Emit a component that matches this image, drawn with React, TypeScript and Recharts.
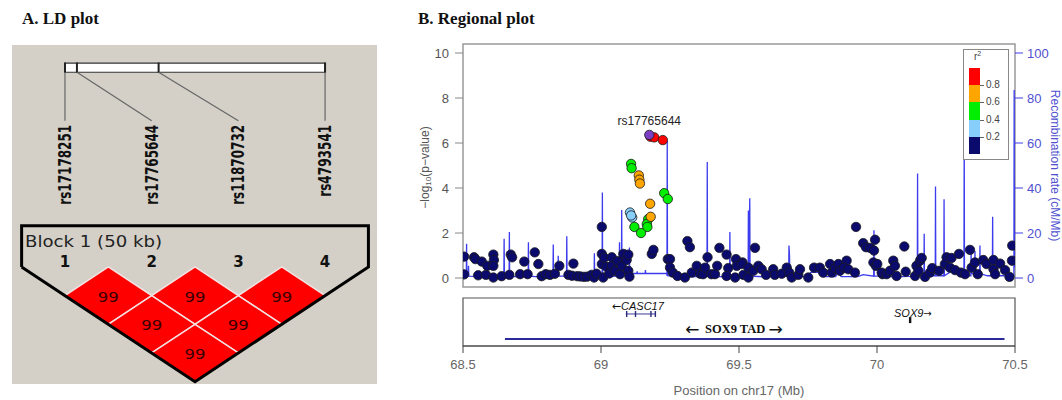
import React from "react";
import {
  ComposedChart,
  ScatterChart,
  Scatter,
  Line,
  XAxis,
  YAxis,
  ReferenceArea,
  ReferenceLine,
  Legend,
} from "recharts";

// ---------- A. LD plot data ----------
const ldMarkers = ["rs17178251", "rs17765644", "rs11870732", "rs4793541"];
const ldMarkerKb = [0, 2.3, 18.0, 50];
const ldBlockKb = 50;
const ldPairs = [
  [1, 2, 99],
  [2, 3, 99],
  [3, 4, 99],
  [1, 3, 99],
  [2, 4, 99],
  [1, 4, 99],
];
const ldBlockLabel = "Block 1 (50 kb)";

// ---------- B. Regional plot data ----------
const xTicks = [68.5, 69, 69.5, 70, 70.5];
const pTicks = [0, 2, 4, 6, 8, 10];
const rateTicks = [0, 20, 40, 60, 80, 100];

const r2Colors = ["#ff0000", "#ffa500", "#00ee00", "#87cefa", "#0b0b6e"];
const r2Breaks = ["0.8", "0.6", "0.4", "0.2"];

const leadSnp = { name: "rs17765644", pos: 69.175, logp: 6.36 };

const snpsRed = [
  [69.179, 6.28],
  [69.193, 6.25],
  [69.224, 6.13],
];
const snpsOrange = [
  [69.137, 4.56],
  [69.139, 4.37],
  [69.141, 4.2],
  [69.178, 3.3],
  [69.18, 2.72],
];
const snpsGreen = [
  [69.109, 5.07],
  [69.111, 4.88],
  [69.229, 3.77],
  [69.242, 3.51],
  [69.171, 2.62],
  [69.166, 2.4],
  [69.168, 2.27],
  [69.121, 2.27],
  [69.145, 2.0],
];
const snpsLightBlue = [
  [69.105, 2.91],
  [69.113, 2.69],
  [69.109, 2.78],
];
const snpsNavy = [
  [68.504, 0.95], [68.504, 0.16], [68.54, 0.92], [68.545, 0.84], [68.555, 0.12],
  [68.568, 0.73], [68.583, 0.14], [68.588, 0.54], [68.61, 1.04], [68.612, 0.8],
  [68.61, 0.54], [68.61, 0.02], [68.64, 0.08], [68.668, 0.14], [68.673, 1.04],
  [68.678, 0.92], [68.707, 0.17], [68.722, 0.73], [68.734, 0.17], [68.76, 1.14],
  [68.773, 0.62], [68.785, 0.08], [68.8, 0.17], [68.815, 0.14], [68.833, 0.19],
  [68.849, 0.54], [68.882, 0.14], [68.895, 0.1], [68.9, 0.64], [68.914, 0.08],
  [68.925, 0.07], [68.938, 0.05], [68.95, 0.06], [68.966, 0.14], [68.975, 0.02],
  [68.984, 0.19],
  [69.003, 2.27], [69.003, 1.07], [69.003, 0.62], [69.008, 0.02], [69.012, 0.9],
  [69.02, 0.5], [69.03, 0.2], [69.039, 0.92], [69.039, 0.54], [69.05, 0.32],
  [69.06, 0.75], [69.069, 0.17], [69.075, 0.54], [69.081, 1.07], [69.093, 0.8],
  [69.099, 1.04], [69.099, 0.32], [69.103, 0.06],
  [69.184, 1.07], [69.19, 1.25], [69.242, 0.84], [69.25, 0.84], [69.25, 0.46],
  [69.26, 0.24], [69.277, 0.09], [69.304, 0.02], [69.313, 1.64], [69.322, 1.37],
  [69.329, 0.24], [69.347, 0.54], [69.359, 0.19], [69.37, 0.17], [69.377, 0.46],
  [69.386, 0.92], [69.4, 0.17], [69.413, 0.17], [69.421, 0.54], [69.429, 1.34],
  [69.455, 1.04], [69.461, 0.44], [69.455, 0.09], [69.486, 0.02], [69.489, 0.84],
  [69.492, 0.54], [69.513, 0.69],
  [69.51, 0.62], [69.516, 0.14], [69.534, 0.46], [69.534, 0.02], [69.558, 1.34],
  [69.552, 0.32], [69.57, 0.54], [69.582, 0.39], [69.598, 0.14], [69.624, 0.39],
  [69.63, 0.14], [69.655, 0.19], [69.673, 0.46], [69.682, 0.24], [69.691, 0.02],
  [69.715, 0.14], [69.721, 0.39], [69.751, 0.02], [69.772, 0.46], [69.793, 0.46],
  [69.805, 0.24], [69.83, 0.62], [69.836, 0.24], [69.848, 0.44], [69.86, 0.62],
  [69.866, 0.32], [69.89, 0.77], [69.88, 0.46], [69.896, 0.39], [69.92, 0.24],
  [69.924, 2.27], [69.95, 1.55], [69.96, 1.37], [69.975, 1.34], [69.989, 1.22],
  [69.993, 1.7], [69.987, 0.69], [69.996, 0.54], [70.02, 0.17],
  [70.001, 0.62], [70.017, 0.24], [70.035, 0.17], [70.047, 0.32], [70.059, 0.77],
  [70.065, 0.54], [70.071, 0.09], [70.099, 1.4], [70.104, 0.28], [70.138, 0.09],
  [70.143, 0.54], [70.156, 0.77], [70.162, 0.89], [70.15, 0.32], [70.174, 0.05],
  [70.192, 0.24], [70.2, 0.44], [70.225, 0.32], [70.246, 0.62], [70.252, 0.92],
  [70.27, 0.89], [70.264, 0.46], [70.283, 0.35], [70.297, 1.07], [70.304, 0.24],
  [70.319, 0.17], [70.337, 1.25], [70.343, 0.46], [70.355, 0.69], [70.365, 0.17],
  [70.385, 0.8], [70.397, 0.62], [70.422, 0.8], [70.422, 0.39], [70.428, 0.17],
  [70.446, 0.64], [70.464, 0.35], [70.48, 0.05], [70.489, 0.77], [70.49, 1.44],
];

// recombination rate (cM/Mb) along the region
const recombRate = [
  [68.5, 0.5], [68.505, 1], [68.512, 1], [68.513, 15.2], [68.514, 1], [68.519, 1],
  [68.52, 5.4], [68.521, 0.8], [68.58, 0.6], [68.6, 0.5],
  [68.648, 0.8], [68.649, 17.4], [68.65, 0.8], [68.667, 0.8], [68.668, 20.4], [68.669, 0.8],
  [68.7, 0.5], [68.736, 0.8], [68.737, 15.9], [68.738, 0.8], [68.79, 0.4],
  [68.826, 0.8], [68.827, 14.9], [68.828, 0.8], [68.844, 0.8], [68.845, 9.9], [68.846, 0.8],
  [68.875, 0.8], [68.876, 18.5], [68.877, 0.8], [68.93, 0.5],
  [68.975, 0.8], [68.976, 11], [68.977, 0.8], [69.004, 0.8], [69.005, 38], [69.006, 0.8],
  [69.03, 0.5], [69.066, 1], [69.067, 15.9], [69.068, 1], [69.074, 1], [69.075, 30.2],
  [69.076, 1], [69.102, 1], [69.103, 13.6], [69.104, 1.5],
  [69.11, 2], [69.13, 2], [69.131, 3], [69.132, 2], [69.16, 2], [69.161, 3.5], [69.162, 2],
  [69.2, 2], [69.238, 2], [69.239, 1], [69.24, 61], [69.241, 1],
  [69.3, 0.4], [69.384, 0.8], [69.385, 51.5], [69.386, 0.8], [69.42, 0.5],
  [69.466, 0.8], [69.467, 20.4], [69.468, 0.8], [69.5, 0.6],
  [69.533, 0.8], [69.534, 30], [69.536, 5], [69.539, 35.4], [69.54, 0.8], [69.6, 0.5],
  [69.68, 0.8], [69.681, 14.4], [69.683, 10], [69.684, 0.8],
  [69.75, 0.5], [69.76, 2.5], [69.8, 2.5], [69.801, 0.6], [69.85, 0.6], [69.86, 2.5],
  [69.87, 0.6], [69.93, 0.6], [69.95, 1.5],
  [69.988, 0.8], [69.989, 21.2], [69.99, 0.8], [70.01, 0.8], [70.011, 8], [70.012, 0.8],
  [70.05, 0.6], [70.09, 0.6], [70.137, 0.8], [70.138, 7.7], [70.139, 1],
  [70.146, 1], [70.147, 46.4], [70.148, 1], [70.17, 1], [70.171, 19.7], [70.172, 1],
  [70.211, 1], [70.212, 40.7], [70.213, 1], [70.242, 1], [70.243, 35], [70.244, 1],
  [70.27, 3], [70.3, 3], [70.315, 1], [70.316, 66], [70.317, 1],
  [70.34, 1], [70.341, 12], [70.342, 2], [70.354, 2], [70.355, 12], [70.356, 2],
  [70.372, 2], [70.373, 14.4], [70.374, 2], [70.4, 1],
  [70.418, 1], [70.419, 27.2], [70.42, 1], [70.45, 1],
  [70.496, 1], [70.497, 83.5], [70.498, 5], [70.5, 5],
];

// gene track
const casc17 = { name: "CASC17", start: 69.09, end: 69.197, exons: [69.093, 69.125, 69.181, 69.197] };
const sox9 = { name: "SOX9", pos: 70.12 };
const sox9Tad = { name: "SOX9 TAD", start: 68.652, end: 70.462 };

const SANS = "'Liberation Sans', Arial, sans-serif";
const SERIF = "'Liberation Serif', 'Times New Roman', serif";
const RATE_BLUE = "#3c3cee";

const toPts = (arr: number[][]) => arr.map(([pos, logp]) => ({ pos, logp }));

const dot = (fill: string) => (p: any) => (
  <circle cx={p.cx} cy={p.cy} r={4.7} fill={fill} stroke="#1a1a1a" strokeWidth={0.8} />
);

// ---------- LD panel ----------
const LDPlot = () => {
  const kbToX = (kb: number) => 1 + (kb / ldBlockKb) * (ldMarkers.length - 1);
  const labels = ldMarkers.map((name, i) => ({ x: i + 1, y: -4.95, name }));
  const numbers = ldMarkers.map((_, i) => ({ x: i + 1, y: -0.17, name: String(i + 1) }));
  const cells = ldPairs.map(([a, b, v]) => ({ x: (a + b) / 2, y: b - a, v }));
  const n = ldMarkers.length;
  const outline = [
    { x: 0.5, y: 0 },
    { x: 0.5, y: -1.43 },
    { x: n + 0.5, y: -1.43 },
    { x: n + 0.5, y: 0 },
    { x: (n + 1) / 2, y: n },
    { x: 0.5, y: 0 },
  ];

  return (
    <ScatterChart width={365} height={339} margin={{ top: 0, right: 0, bottom: 0, left: 0 }}>
      <XAxis type="number" dataKey="x" domain={[0.389, 4.599]} hide allowDataOverflow />
      <YAxis type="number" dataKey="y" domain={[-7.73, 4.08]} reversed hide allowDataOverflow />
      <ReferenceArea x1={1} x2={4} y1={-7.1} y2={-6.78} fill="#fff" fillOpacity={1} stroke="#333" strokeWidth={1.2} />
      {ldMarkerKb.map((kb, i) => (
        <ReferenceLine
          key={"t" + i}
          segment={[{ x: kbToX(kb), y: -7.12 }, { x: kbToX(kb), y: -6.76 }]}
          stroke="#222"
          strokeWidth={2}
        />
      ))}
      {ldMarkerKb.map((kb, i) => (
        <ReferenceLine
          key={"c" + i}
          segment={[{ x: kbToX(kb), y: -6.78 }, { x: i + 1, y: -5.09 }]}
          stroke="#666"
          strokeWidth={1.2}
        />
      ))}
      <Scatter
        data={labels}
        isAnimationActive={false}
        shape={(p: any) => (
          <text
            x={p.cx}
            y={p.cy}
            transform={`rotate(-90 ${p.cx} ${p.cy})`}
            textAnchor="end"
            dominantBaseline="central"
            fontFamily="'DejaVu Sans Condensed', 'DejaVu Sans', sans-serif"
            fontWeight="bold"
            fontSize={17.5}
            textLength={p.payload.name.length * 8}
            lengthAdjust="spacingAndGlyphs"
            fill="#111"
          >
            {p.payload.name}
          </text>
        )}
      />
      <Scatter
        data={cells}
        isAnimationActive={false}
        shape={(p: any) => {
          const w = 43.4;
          const h = 28.7;
          return (
            <g>
              <polygon
                points={`${p.cx},${p.cy - h} ${p.cx + w},${p.cy} ${p.cx},${p.cy + h} ${p.cx - w},${p.cy}`}
                fill="#ff0000"
                stroke="#f3e2e2"
                strokeWidth={1.5}
              />
              <text
                x={p.cx}
                y={p.cy + 1}
                textAnchor="middle"
                dominantBaseline="central"
                fontFamily="'DejaVu Sans', sans-serif"
                fontSize={14}
                textLength={21}
                lengthAdjust="spacingAndGlyphs"
                fill="#3a0000"
              >
                {p.payload.v}
              </text>
            </g>
          );
        }}
      />
      <Scatter
        data={outline}
        isAnimationActive={false}
        line={{ stroke: "#000", strokeWidth: 3 }}
        lineType="joint"
        shape={() => <g />}
      />
      <Scatter
        data={numbers}
        isAnimationActive={false}
        shape={(p: any) => (
          <text
            x={p.cx}
            y={p.cy}
            textAnchor="middle"
            dominantBaseline="central"
            fontFamily="'DejaVu Sans', sans-serif"
            fontWeight="bold"
            fontSize={15}
            fill="#111"
          >
            {p.payload.name}
          </text>
        )}
      />
      <Scatter
        data={[{ x: 0.54, y: -0.87 }]}
        isAnimationActive={false}
        shape={(p: any) => (
          <text
            x={p.cx}
            y={p.cy}
            dominantBaseline="central"
            fontFamily="'DejaVu Sans', sans-serif"
            fontSize={15.5}
            textLength={137}
            lengthAdjust="spacingAndGlyphs"
            fill="#222"
          >
            {ldBlockLabel}
          </text>
        )}
      />
    </ScatterChart>
  );
};

// ---------- r2 legend ----------
const R2Legend = () => (
  <div
    style={{
      width: 46,
      height: 111,
      border: "1px solid #888",
      background: "#fff",
      position: "relative",
      boxSizing: "border-box",
      fontFamily: SANS,
    }}
  >
    <div style={{ position: "absolute", left: 10, top: 0, fontSize: 10, color: "#444" }}>
      r<sup style={{ fontSize: 7 }}>2</sup>
    </div>
    {r2Colors.map((c, i) => (
      <div
        key={c}
        style={{ position: "absolute", left: 5, top: 18 + i * 17.2, width: 11, height: 17.2, background: c }}
      />
    ))}
    {r2Breaks.map((b, i) => (
      <React.Fragment key={b}>
        <div
          style={{ position: "absolute", left: 16, top: 18 + (i + 1) * 17.2, width: 4, height: 1, background: "#666" }}
        />
        <div
          style={{
            position: "absolute",
            left: 22,
            top: 18 + (i + 1) * 17.2 - 6,
            fontSize: 10,
            lineHeight: "12px",
            color: "#444",
          }}
        >
          {b}
        </div>
      </React.Fragment>
    ))}
  </div>
);

// ---------- regional plot ----------
const RegionalPlot = () => {
  const recomb = recombRate.map(([pos, rate]) => ({ pos, rate }));
  const groups = [
    { data: toPts(snpsNavy), color: r2Colors[4] },
    { data: toPts(snpsLightBlue), color: r2Colors[3] },
    { data: toPts(snpsGreen), color: r2Colors[2] },
    { data: toPts(snpsOrange), color: r2Colors[1] },
    { data: toPts(snpsRed), color: r2Colors[0] },
  ];
  return (
    <ComposedChart width={662} height={270} margin={{ top: 14, right: 0, bottom: 13, left: 0 }}>
      <XAxis type="number" dataKey="pos" domain={[68.5, 70.5]} hide allowDataOverflow />
      <YAxis
        yAxisId="p"
        type="number"
        domain={[-0.4, 10.4]}
        ticks={pTicks}
        width={63}
        allowDataOverflow
        axisLine={false}
        tickSize={8}
        tickMargin={6}
        tickLine={{ stroke: "#888" }}
        tick={{ fill: "#555", fontSize: 13, fontFamily: SANS }}
        label={{
          content: (props: any) => {
            const vb = props.viewBox || { x: 0, y: 14, width: 63, height: 243 };
            const x = vb.x + 25;
            const y = vb.y + vb.height / 2 + 2;
            return (
              <text
                x={x}
                y={y}
                transform={`rotate(-90 ${x} ${y})`}
                textAnchor="middle"
                dominantBaseline="central"
                fontFamily={SANS}
                fontSize={12}
                fill="#555"
              >
                −log
                <tspan fontSize={8} dy={3}>10</tspan>
                <tspan dy={-3}>(p−value)</tspan>
              </text>
            );
          },
        }}
      />
      <YAxis
        yAxisId="r"
        orientation="right"
        type="number"
        domain={[-4, 104]}
        ticks={rateTicks}
        width={47}
        allowDataOverflow
        axisLine={false}
        tickSize={8}
        tickMargin={4}
        tickLine={{ stroke: RATE_BLUE }}
        tick={{ fill: "#5050d0", fontSize: 13, fontFamily: SANS }}
        label={{
          content: (props: any) => {
            const vb = props.viewBox || { x: 615, y: 14, width: 47, height: 243 };
            const x = vb.x + 40;
            const y = vb.y + vb.height / 2;
            return (
              <text
                x={x}
                y={y}
                transform={`rotate(90 ${x} ${y})`}
                textAnchor="middle"
                dominantBaseline="central"
                fontFamily={SANS}
                fontSize={12}
                fill="#5050d0"
              >
                Recombination rate (cM/Mb)
              </text>
            );
          },
        }}
      />
      <ReferenceArea yAxisId="p" x1={68.5} x2={70.5} y1={-0.4} y2={10.4} fill="#fff" fillOpacity={1} stroke="#999" strokeWidth={1.5} />
      <Line
        yAxisId="r"
        data={recomb}
        dataKey="rate"
        type="linear"
        stroke={RATE_BLUE}
        strokeWidth={1.3}
        dot={false}
        isAnimationActive={false}
      />
      {groups.map((g, i) => (
        <Scatter
          key={i}
          yAxisId="p"
          data={g.data}
          dataKey="logp"
          fill={g.color}
          shape={dot(g.color)}
          isAnimationActive={false}
        />
      ))}
      <Scatter
        yAxisId="p"
        data={[leadSnp]}
        dataKey="logp"
        fill="#7b3fc4"
        isAnimationActive={false}
        shape={(p: any) => (
          <g>
            <circle cx={p.cx} cy={p.cy} r={4.7} fill="#7b3fc4" stroke="#1a1a1a" strokeWidth={0.8} />
            <text x={p.cx} y={p.cy - 10} textAnchor="middle" fontFamily={SANS} fontSize={12} fill="#222">
              {p.payload.name}
            </text>
          </g>
        )}
      />
      <Legend
        layout="vertical"
        align="center"
        verticalAlign="middle"
        wrapperStyle={{ left: 563, top: 19, width: 46, height: 111 }}
        content={() => <R2Legend />}
      />
    </ComposedChart>
  );
};

// ---------- gene track ----------
const GeneTrack = () => {
  const txt = (p: any) => {
    const d = p.payload;
    return (
      <text
        x={p.cx}
        y={p.cy}
        textAnchor="middle"
        dominantBaseline="central"
        fontFamily={d.serif ? SERIF : SANS}
        fontStyle={d.italic ? "italic" : "normal"}
        fontWeight={d.bold ? "bold" : "normal"}
        fontSize={d.size}
        fill="#111"
      >
        {d.before ? (
          <tspan fontSize={d.arrow} fontStyle="normal" fontWeight="normal" fontFamily="'DejaVu Sans', sans-serif">
            {d.before}
          </tspan>
        ) : null}
        <tspan>{d.label}</tspan>
        {d.after ? (
          <tspan fontSize={d.arrow} fontStyle="normal" fontWeight="normal" fontFamily="'DejaVu Sans', sans-serif">
            {d.after}
          </tspan>
        ) : null}
      </text>
    );
  };
  const labels = [
    { pos: (casc17.start + casc17.end) / 2 - 0.01, y: 0.83, before: "←", label: casc17.name, italic: true, size: 11, arrow: 11 },
    { pos: sox9.pos + 0.01, y: 0.69, label: sox9.name, after: "→", italic: true, size: 11, arrow: 10 },
    { pos: 69.482, y: 0.36, before: "← ", label: " " + sox9Tad.name + " ", after: " →", serif: true, bold: true, size: 12.5, arrow: 17 },
  ];
  return (
    <ComposedChart width={662} height={110} margin={{ top: 8, right: 47, bottom: 0, left: 63 }}>
      <XAxis
        type="number"
        dataKey="pos"
        domain={[68.5, 70.5]}
        ticks={xTicks}
        height={54}
        allowDataOverflow
        stroke="#444"
        tickSize={7}
        tickMargin={7}
        tick={{ fill: "#666", fontSize: 13, fontFamily: SANS }}
        label={{ value: "Position on chr17 (Mb)", position: "insideBottom", offset: 5, fill: "#666", fontSize: 13, fontFamily: SANS }}
      />
      <YAxis type="number" domain={[0, 1]} hide />
      <ReferenceArea x1={68.5} x2={70.5} y1={0} y2={1} fill="#fff" fillOpacity={1} stroke="#555" strokeWidth={1.2} />
      <ReferenceLine
        segment={[{ x: sox9Tad.start, y: 0.146 }, { x: sox9Tad.end, y: 0.146 }]}
        stroke="#2a2a9c"
        strokeWidth={2}
      />
      <ReferenceLine
        segment={[{ x: casc17.start, y: 0.667 }, { x: casc17.end, y: 0.667 }]}
        stroke="#3a3a9a"
        strokeWidth={1}
      />
      <Scatter
        data={casc17.exons.map((pos) => ({ pos, y: 0.667 }))}
        dataKey="y"
        isAnimationActive={false}
        shape={(p: any) => <rect x={p.cx - 0.7} y={p.cy - 3} width={1.4} height={6} fill="#2a2a7a" />}
      />
      <Scatter
        data={[{ pos: sox9.pos, y: 0.54 }]}
        dataKey="y"
        isAnimationActive={false}
        shape={(p: any) => <rect x={p.cx - 1.2} y={p.cy - 3} width={2.4} height={6} fill="#111" />}
      />
      <Scatter data={labels} dataKey="y" isAnimationActive={false} shape={txt} />
    </ComposedChart>
  );
};

export default function App() {
  return (
    <div style={{ position: "absolute", left: 0, top: 0, width: 1062, height: 400, background: "#fff", overflow: "hidden" }}>
      <div style={{ position: "absolute", left: 22, top: 9, fontFamily: SERIF, fontWeight: "bold", fontSize: 17, color: "#111" }}>
        A. LD plot
      </div>
      <div style={{ position: "absolute", left: 418, top: 9, fontFamily: SERIF, fontWeight: "bold", fontSize: 17, color: "#111" }}>
        B. Regional plot
      </div>
      <div style={{ position: "absolute", left: 12, top: 45, width: 365, height: 339, background: "#d4d0c8" }}>
        <LDPlot />
      </div>
      <div style={{ position: "absolute", left: 400, top: 30 }}>
        <RegionalPlot />
      </div>
      <div style={{ position: "absolute", left: 400, top: 290 }}>
        <GeneTrack />
      </div>
    </div>
  );
}
